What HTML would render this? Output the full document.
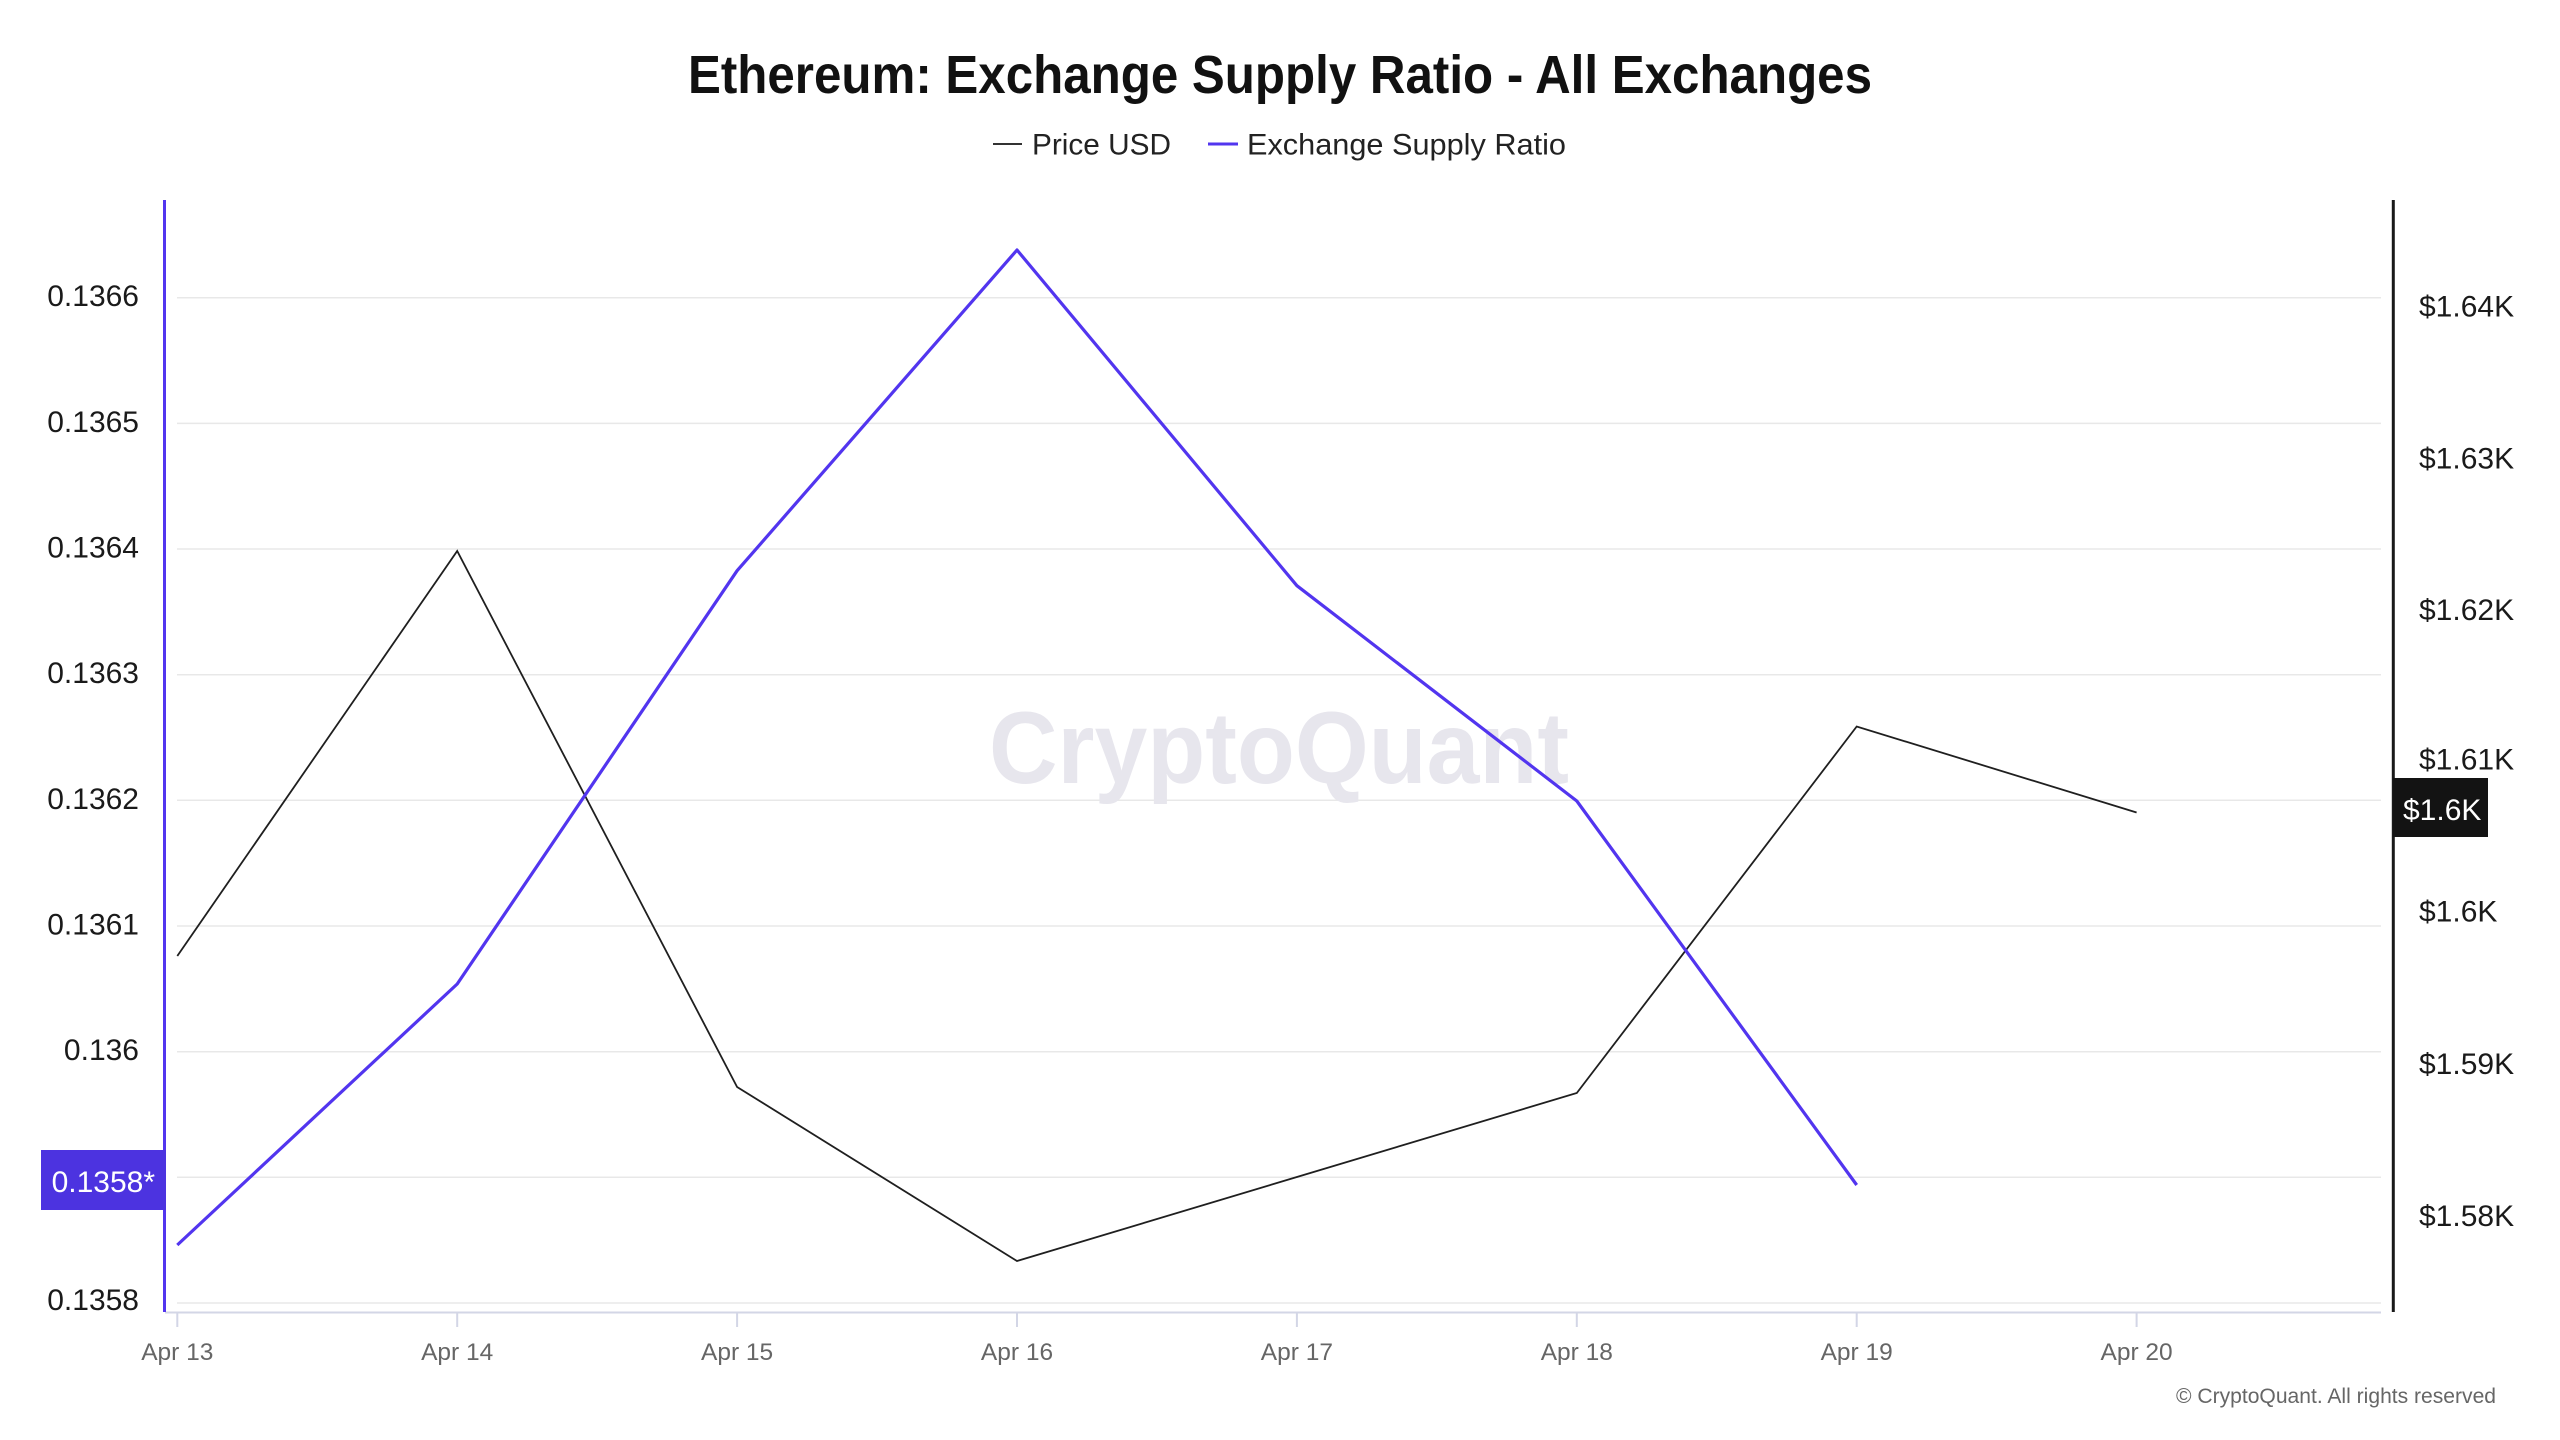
<!DOCTYPE html>
<html>
<head>
<meta charset="utf-8">
<style>
  html, body { margin: 0; padding: 0; background: #ffffff; }
  body { width: 2560px; height: 1440px; overflow: hidden; }
  svg { display: block; }
  text { font-family: "Liberation Sans", "DejaVu Sans", sans-serif; }
</style>
</head>
<body>
<svg width="2560" height="1440" viewBox="0 0 2560 1440" xmlns="http://www.w3.org/2000/svg">
  <rect x="0" y="0" width="2560" height="1440" fill="#ffffff"/>

  <!-- Title -->
  <text x="1280" y="93" text-anchor="middle" font-size="54" font-weight="bold" fill="#111111" textLength="1184" lengthAdjust="spacingAndGlyphs">Ethereum: Exchange Supply Ratio - All Exchanges</text>

  <!-- Legend -->
  <line x1="993" y1="144" x2="1022" y2="144" stroke="#333333" stroke-width="2"/>
  <text x="1032" y="154.5" font-size="30" fill="#222222" textLength="139" lengthAdjust="spacingAndGlyphs">Price USD</text>
  <line x1="1208" y1="144" x2="1238" y2="144" stroke="#5235ef" stroke-width="3"/>
  <text x="1247" y="154.5" font-size="30" fill="#222222" textLength="319" lengthAdjust="spacingAndGlyphs">Exchange Supply Ratio</text>

  <!-- Gridlines -->
  <g stroke="#e8e8e8" stroke-width="1.5">
    <line x1="177" y1="297.7" x2="2381" y2="297.7"/>
    <line x1="177" y1="423.4" x2="2381" y2="423.4"/>
    <line x1="177" y1="549" x2="2381" y2="549"/>
    <line x1="177" y1="674.7" x2="2381" y2="674.7"/>
    <line x1="177" y1="800.3" x2="2381" y2="800.3"/>
    <line x1="177" y1="926" x2="2381" y2="926"/>
    <line x1="177" y1="1051.7" x2="2381" y2="1051.7"/>
    <line x1="177" y1="1177.3" x2="2381" y2="1177.3"/>
    <line x1="177" y1="1303" x2="2381" y2="1303"/>
  </g>

  <!-- Watermark -->
  <text x="989" y="783" font-size="102" font-weight="bold" fill="#e7e6ed" textLength="580" lengthAdjust="spacingAndGlyphs">CryptoQuant</text>

  <!-- X axis -->
  <line x1="165" y1="1312.5" x2="2381" y2="1312.5" stroke="#d3d6e6" stroke-width="2"/>
  <g stroke="#d3d6e6" stroke-width="2">
    <line x1="177.3" y1="1312" x2="177.3" y2="1327"/>
    <line x1="457.2" y1="1312" x2="457.2" y2="1327"/>
    <line x1="737.1" y1="1312" x2="737.1" y2="1327"/>
    <line x1="1017" y1="1312" x2="1017" y2="1327"/>
    <line x1="1296.9" y1="1312" x2="1296.9" y2="1327"/>
    <line x1="1576.8" y1="1312" x2="1576.8" y2="1327"/>
    <line x1="1856.7" y1="1312" x2="1856.7" y2="1327"/>
    <line x1="2136.6" y1="1312" x2="2136.6" y2="1327"/>
  </g>
  <g font-size="24.5" fill="#666666" text-anchor="middle">
    <text x="177.3" y="1360">Apr 13</text>
    <text x="457.2" y="1360">Apr 14</text>
    <text x="737.1" y="1360">Apr 15</text>
    <text x="1017" y="1360">Apr 16</text>
    <text x="1296.9" y="1360">Apr 17</text>
    <text x="1576.8" y="1360">Apr 18</text>
    <text x="1856.7" y="1360">Apr 19</text>
    <text x="2136.6" y="1360">Apr 20</text>
  </g>

  <!-- Left axis -->
  <line x1="164.5" y1="200" x2="164.5" y2="1312" stroke="#5235ef" stroke-width="3"/>
  <g font-size="30" fill="#1a1a1a" text-anchor="end">
    <text x="139" y="306.2">0.1366</text>
    <text x="139" y="431.9">0.1365</text>
    <text x="139" y="557.5">0.1364</text>
    <text x="139" y="683.2">0.1363</text>
    <text x="139" y="808.8">0.1362</text>
    <text x="139" y="934.5">0.1361</text>
    <text x="139" y="1060.2">0.136</text>
    <text x="139" y="1310">0.1358</text>
  </g>
  <rect x="41" y="1150" width="125" height="60" fill="#4c33e0"/>
  <text x="155" y="1192" font-size="30" fill="#ffffff" text-anchor="end">0.1358*</text>

  <!-- Right axis -->
  <line x1="2393.3" y1="200" x2="2393.3" y2="1312" stroke="#1a1a1a" stroke-width="3"/>
  <g font-size="30" fill="#1a1a1a">
    <text x="2419" y="316.7">$1.64K</text>
    <text x="2419" y="468.3">$1.63K</text>
    <text x="2419" y="619.9">$1.62K</text>
    <text x="2419" y="769.5">$1.61K</text>
    <text x="2419" y="921.5">$1.6K</text>
    <text x="2419" y="1074">$1.59K</text>
    <text x="2419" y="1226">$1.58K</text>
  </g>
  <rect x="2393" y="778" width="95" height="59" fill="#131313"/>
  <text x="2403" y="820" font-size="30" fill="#ffffff">$1.6K</text>

  <!-- Price USD series -->
  <polyline fill="none" stroke="#1f1f1f" stroke-width="1.8" stroke-linejoin="miter"
    points="177.3,956 457.2,551 737.1,1087 1017,1261 1296.9,1177 1576.8,1093 1856.7,726.5 2136.6,812.5"/>

  <!-- Exchange Supply Ratio series -->
  <polyline fill="none" stroke="#5235ef" stroke-width="3.2" stroke-linejoin="round"
    points="177.3,1245 457.2,984 737.1,570.7 1017,250 1296.9,585.7 1576.8,801 1856.7,1185"/>

  <!-- Copyright -->
  <text x="2496" y="1403" font-size="21" fill="#666666" text-anchor="end" textLength="320" lengthAdjust="spacingAndGlyphs">© CryptoQuant. All rights reserved</text>
</svg>
</body>
</html>
